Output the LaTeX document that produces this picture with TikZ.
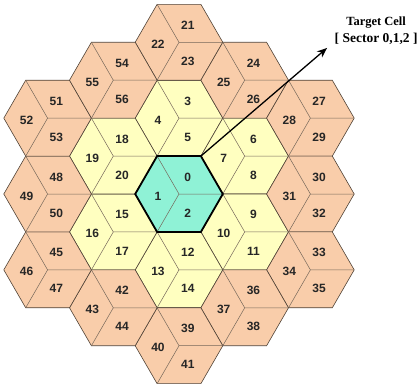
\documentclass[tikz,border=0pt]{standalone}
\usepackage{fontspec}
\setmainfont{Liberation Serif}
\setsansfont{Liberation Sans}
\usetikzlibrary{arrows.meta,shapes.geometric}
\definecolor{hexTeal}{HTML}{8FF2D6}
\definecolor{hexYellow}{HTML}{FFFFC0}
\definecolor{hexPeach}{HTML}{F9CDAA}
\definecolor{hexEdge}{HTML}{4F4236}
\definecolor{hexSpoke}{HTML}{76675A}
\tikzset{
  >={Stealth[length=10pt,width=8pt]},
  cell/.style={regular polygon, regular polygon sides=6, minimum size=87.6pt,
               inner sep=0pt, outer sep=0pt, draw=hexEdge, line width=0.6pt},
  corecell/.style={cell, fill=hexTeal},
  nearcell/.style={cell, fill=hexYellow},
  farcell/.style={cell, fill=hexPeach},
  spoke/.style={draw=hexSpoke, line width=0.5pt},
  num/.style={font=\sffamily\bfseries\fontsize{12}{12}\selectfont, text=black!85, inner sep=0pt},
  rim/.style={draw=black, line width=1.8pt, line join=miter},
  ann/.style={font=\bfseries\fontsize{12.5}{17}\selectfont, align=center, inner sep=0pt},
  flow/.style={->, draw=black, line width=1.3pt},
}

\begin{document}
\begin{tikzpicture}[x=43.8pt, y=-37.93pt]
  \useasboundingbox (-179pt,194pt) rectangle (241pt,-190pt);
  % cells: first sector, centre, ring
  \foreach \n/\x/\y/\kind [evaluate=\n as \nb using int(\n+1),
                           evaluate=\n as \nc using int(\n+2)] in {
      0/0/0/corecell,
      3/0/-2/nearcell, 6/1.5/-1/nearcell, 9/1.5/1/nearcell,
      12/0/2/nearcell, 15/-1.5/1/nearcell, 18/-1.5/-1/nearcell,
      21/0/-4/farcell, 24/1.5/-3/farcell, 27/3/-2/farcell, 30/3/0/farcell,
      33/3/2/farcell, 36/1.5/3/farcell, 39/0/4/farcell, 42/-1.5/3/farcell,
      45/-3/2/farcell, 48/-3/0/farcell, 51/-3/-2/farcell, 54/-1.5/-3/farcell}{
    \node[\kind] (cell\n) at (\x,\y) {};
    \draw[spoke] (cell\n.center) -- (cell\n.120)
                 (cell\n.center) -- (cell\n.240)
                 (cell\n.center) -- (cell\n.0);
    \node[num] (s\n)  at ([shift={(0.2,-0.45)}]cell\n.center) {\n};
    \node[num] (s\nb) at ([shift={(-0.48,0.05)}]cell\n.center) {\nb};
    \node[num] (s\nc) at ([shift={(0.2,0.5)}]cell\n.center) {\nc};
  }
  \draw[rim] (cell0.0) -- (cell0.60) -- (cell0.120) -- (cell0.180)
             -- (cell0.240) -- (cell0.300) -- cycle;

  \node[ann] (target) at (4.5,-4.3)
        {Target Cell\\{\fontsize{13.5}{17}\selectfont [ Sector 0,1,2 ]}};
  \coordinate (tip) at (3.38,-3.85);
  \draw[flow] (cell0.60) -- (tip);
\end{tikzpicture}
\end{document}
